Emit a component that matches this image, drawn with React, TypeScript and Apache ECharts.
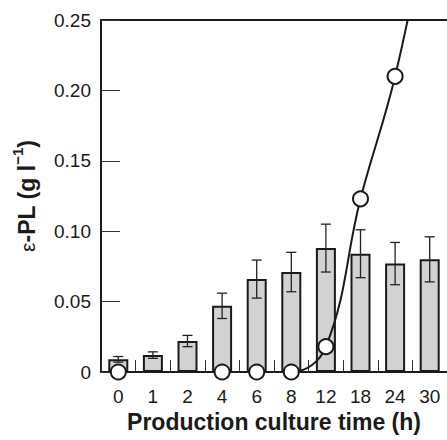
import React, { useEffect, useRef } from "react";
import * as echarts from "echarts";

const categories = ["0", "1", "2", "4", "6", "8", "12", "18", "24", "30"];
const plValues = [0.009, 0.012, 0.022, 0.047, 0.066, 0.071, 0.088, 0.084, 0.077, 0.08];
const plErrors = [0.002, 0.0023, 0.004, 0.009, 0.0135, 0.014, 0.017, 0.017, 0.015, 0.016];
const lineValues = [0, null, null, 0, 0, 0, 0.018, 0.123, 0.21, 0.33];
const yTicks = [0, 0.05, 0.1, 0.15, 0.2, 0.25];

const FONT = "'Liberation Sans', Arial, Helvetica, sans-serif";

export default function App() {
  const ref = useRef<HTMLDivElement>(null);
  useEffect(() => {
    if (!ref.current) return;
    const chart = echarts.init(ref.current, null, { renderer: "svg" });
    const errData = plValues.map((v, i) => [i, v - plErrors[i], v + plErrors[i]]);
    chart.setOption({
      animation: false,
      grid: { left: 101, top: 20, right: 0, bottom: 68, containLabel: false },
      xAxis: [
        {
          type: "category",
          data: categories,
          boundaryGap: true,
          axisLine: { show: true, lineStyle: { color: "#1a1a1a", width: 2 } },
          axisTick: { show: true, inside: true, length: 12, alignWithLabel: false, lineStyle: { color: "#333", width: 1 } },
          axisLabel: { color: "#1a1a1a", fontSize: 19, fontFamily: FONT, margin: 15 },
          name: "Production culture time (h)",
          nameLocation: "middle",
          nameGap: 38,
          nameTextStyle: { color: "#1a1a1a", fontSize: 23, fontWeight: "bold", fontFamily: FONT },
        },
        {
          type: "category",
          data: categories,
          position: "top",
          axisLine: { show: true, lineStyle: { color: "#1a1a1a", width: 2 } },
          axisTick: { show: false },
          axisLabel: { show: false },
        },
      ],
      yAxis: {
        type: "value",
        min: yTicks[0],
        max: yTicks[yTicks.length - 1],
        interval: 0.05,
        splitLine: { show: false },
        axisLine: { show: true, lineStyle: { color: "#1a1a1a", width: 2 } },
        axisTick: { show: true, inside: true, length: 19, lineStyle: { color: "#333", width: 1 } },
        axisLabel: {
          color: "#1a1a1a",
          fontSize: 19,
          fontFamily: FONT,
          margin: 10,
          formatter: (v: number) => (v === 0 ? "0" : v.toFixed(2)),
        },
        name: "{r|ε}{b|-PL (g l}{s|−1}{b|)}",
        nameLocation: "middle",
        nameRotate: 90,
        nameGap: 63,
        nameTextStyle: {
          color: "#1a1a1a",
          fontFamily: FONT,
          rich: {
            r: { fontSize: 21, fontFamily: FONT, color: "#1a1a1a", lineHeight: 28, verticalAlign: "bottom" },
            b: { fontSize: 23, fontWeight: "bold", fontFamily: FONT, color: "#1a1a1a", lineHeight: 28, verticalAlign: "bottom" },
            s: { fontSize: 15, fontWeight: "bold", fontFamily: FONT, color: "#1a1a1a", lineHeight: 28, verticalAlign: "top" },
          },
        },
      },
      series: [
        {
          type: "bar",
          data: plValues,
          barWidth: 20,
          itemStyle: { color: "#d2d2d2", borderColor: "#1a1a1a", borderWidth: 2 },
          z: 2,
        },
        {
          type: "custom",
          data: errData,
          encode: { x: 0, y: [1, 2] },
          z: 3,
          renderItem: (params: any, api: any) => {
            const lo = api.coord([api.value(0), api.value(1)]);
            const hi = api.coord([api.value(0), api.value(2)]);
            const half = 5;
            const st = { stroke: "#222", lineWidth: 1.3 };
            return {
              type: "group",
              children: [
                { type: "line", shape: { x1: lo[0], y1: lo[1], x2: hi[0], y2: hi[1] }, style: st },
                { type: "line", shape: { x1: hi[0] - half, y1: hi[1], x2: hi[0] + half, y2: hi[1] }, style: st },
                { type: "line", shape: { x1: lo[0] - half, y1: lo[1], x2: lo[0] + half, y2: lo[1] }, style: st },
              ],
            };
          },
        },
        {
          type: "line",
          data: lineValues,
          smooth: 0.4,
          clip: true,
          connectNulls: false,
          symbol: "circle",
          symbolSize: 15,
          showAllSymbol: true,
          lineStyle: { color: "#1a1a1a", width: 2 },
          itemStyle: { color: "#ffffff", borderColor: "#1a1a1a", borderWidth: 2 },
          z: 5,
        },
      ],
    });
    return () => chart.dispose();
  }, []);
  return <div ref={ref} style={{ width: 447, height: 440, position: "absolute", left: 0, top: 0 }} />;
}
